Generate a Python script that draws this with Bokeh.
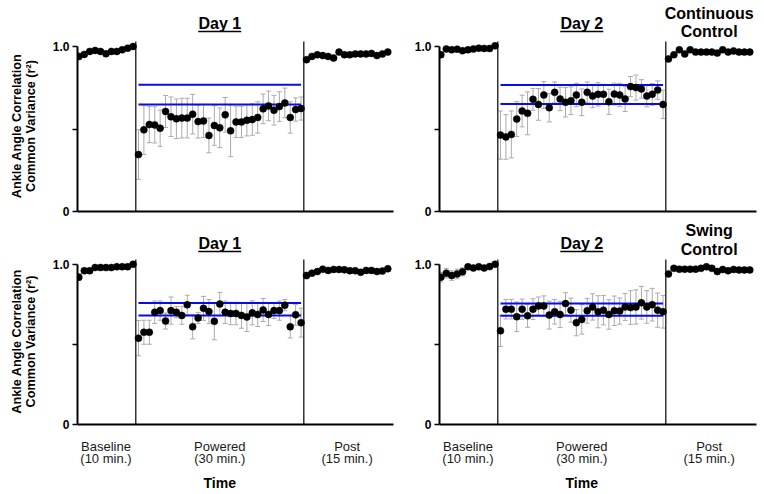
from bokeh.plotting import figure
from bokeh.layouts import row, column
from bokeh.models import ColumnDataSource, FixedTicker, LinearAxis, Whisker, TeeHead, Range1d
from bokeh.core.properties import value
from bokeh.embed import file_html
from bokeh.resources import INLINE

# ---------------- data ----------------
section_labels = ["Baseline\n(10 min.)", "Powered\n(30 min.)", "Post\n(15 min.)"]
x_title = "Time"
y_title = "Ankle Angle Correlation\nCommon Variance (r\u00b2)"
day_titles = ["Day 1", "Day 2"]
group_titles = [["Continuous", "Control"], ["Swing", "Control"]]

# Continuous control, day 1
cc1_base = [0.94, 0.952, 0.97, 0.976, 0.97, 0.956, 0.97, 0.97, 0.98, 0.99, 1.0]
cc1_base_err = [0.02, 0.01, 0.01, 0.01, 0.01, 0.01, 0.01, 0.01, 0.01, 0.01, 0.01]
cc1_pow = [0.345, 0.495, 0.527, 0.525, 0.505, 0.606, 0.574, 0.562, 0.566, 0.566, 0.590,
           0.545, 0.549, 0.461, 0.521, 0.507, 0.586, 0.489, 0.543, 0.543, 0.553, 0.557,
           0.570, 0.622, 0.640, 0.614, 0.636, 0.658, 0.570, 0.618, 0.624]
cc1_pow_err = [0.15, 0.15, 0.11, 0.11, 0.11, 0.097, 0.12, 0.12, 0.12, 0.12, 0.12,
               0.10, 0.10, 0.105, 0.12, 0.12, 0.105, 0.157, 0.095, 0.095, 0.095, 0.095,
               0.095, 0.09, 0.09, 0.09, 0.09, 0.09, 0.095, 0.07, 0.07]
cc1_post = [0.92, 0.94, 0.95, 0.945, 0.94, 0.93, 0.966, 0.95, 0.95, 0.955, 0.955, 0.955,
            0.958, 0.945, 0.955, 0.966]
cc1_post_err = [0.015, 0.01, 0.01, 0.01, 0.01, 0.01, 0.01, 0.01, 0.01, 0.01, 0.01, 0.01,
                0.01, 0.01, 0.01, 0.01]
cc1_band = [0.768, 0.648]

# Continuous control, day 2
cc2_base = [0.95, 0.985, 0.98, 0.984, 0.975, 0.98, 0.985, 0.99, 0.988, 0.988, 1.004]
cc2_base_err = [0.015, 0.01, 0.01, 0.01, 0.01, 0.01, 0.01, 0.01, 0.01, 0.01, 0.01]
cc2_pow = [0.463, 0.452, 0.467, 0.56, 0.609, 0.595, 0.68, 0.649, 0.706, 0.629, 0.722,
           0.682, 0.662, 0.671, 0.706, 0.662, 0.722, 0.70, 0.71, 0.71, 0.665, 0.712,
           0.706, 0.682, 0.757, 0.751, 0.743, 0.70, 0.71, 0.736, 0.649]
cc2_pow_err = [0.146, 0.135, 0.142, 0.106, 0.096, 0.13, 0.066, 0.096, 0.081, 0.086, 0.063,
               0.071, 0.089, 0.084, 0.071, 0.081, 0.063, 0.071, 0.071, 0.061, 0.076, 0.066,
               0.071, 0.076, 0.061, 0.076, 0.056, 0.066, 0.066, 0.056, 0.086]
cc2_post = [0.925, 0.95, 0.98, 0.955, 0.98, 0.966, 0.966, 0.966, 0.966, 0.96, 0.98, 0.966,
            0.973, 0.966, 0.966, 0.966]
cc2_post_err = [0.015, 0.01, 0.01, 0.01, 0.01, 0.01, 0.01, 0.01, 0.01, 0.01, 0.01, 0.01,
                0.01, 0.01, 0.01, 0.01]
cc2_band = [0.767, 0.651]

# Swing control, day 1
sc1_base = [0.92, 0.96, 0.96, 0.98, 0.98, 0.98, 0.98, 0.985, 0.985, 0.985, 1.0]
sc1_base_err = [0.02, 0.01, 0.01, 0.01, 0.01, 0.01, 0.01, 0.01, 0.01, 0.01, 0.01]
sc1_pow = [0.539, 0.576, 0.576, 0.701, 0.711, 0.646, 0.711, 0.701, 0.681, 0.747, 0.610,
           0.665, 0.725, 0.705, 0.644, 0.752, 0.701, 0.693, 0.693, 0.681, 0.671, 0.697,
           0.687, 0.715, 0.687, 0.711, 0.711, 0.745, 0.610, 0.685, 0.636]
sc1_pow_err = [0.11, 0.075, 0.075, 0.07, 0.06, 0.05, 0.085, 0.035, 0.055, 0.06, 0.075,
               0.035, 0.075, 0.075, 0.115, 0.073, 0.07, 0.07, 0.07, 0.08, 0.09, 0.075,
               0.075, 0.072, 0.07, 0.05, 0.06, 0.035, 0.07, 0.065, 0.09]
sc1_post = [0.93, 0.945, 0.955, 0.97, 0.962, 0.968, 0.968, 0.966, 0.96, 0.96, 0.95, 0.962,
            0.962, 0.955, 0.958, 0.972]
sc1_post_err = [0.02, 0.01, 0.01, 0.01, 0.01, 0.01, 0.01, 0.01, 0.01, 0.01, 0.01, 0.01,
                0.01, 0.01, 0.01, 0.01]
sc1_band = [0.758, 0.681]

# Swing control, day 2
sc2_base = [0.92, 0.945, 0.93, 0.94, 0.953, 0.985, 0.977, 0.985, 0.977, 0.986, 1.0]
sc2_base_err = [0.03, 0.03, 0.03, 0.03, 0.025, 0.01, 0.01, 0.01, 0.01, 0.01, 0.01]
sc2_pow = [0.585, 0.72, 0.72, 0.673, 0.72, 0.679, 0.72, 0.74, 0.74, 0.683, 0.704,
           0.687, 0.755, 0.714, 0.636, 0.656, 0.71, 0.734, 0.704, 0.714, 0.687, 0.71,
           0.708, 0.734, 0.73, 0.734, 0.76, 0.734, 0.748, 0.714, 0.704]
sc2_pow_err = [0.098, 0.061, 0.061, 0.092, 0.063, 0.072, 0.065, 0.056, 0.063, 0.087, 0.077,
               0.082, 0.068, 0.075, 0.082, 0.092, 0.077, 0.082, 0.1, 0.092, 0.092, 0.092,
               0.082, 0.084, 0.105, 0.107, 0.102, 0.102, 0.102, 0.107, 0.102]
sc2_post = [0.94, 0.975, 0.97, 0.97, 0.97, 0.97, 0.975, 0.985, 0.975, 0.955, 0.968, 0.96,
            0.968, 0.965, 0.965, 0.965]
sc2_post_err = [0.01, 0.01, 0.01, 0.01, 0.01, 0.01, 0.01, 0.01, 0.01, 0.01, 0.01, 0.01,
                0.01, 0.01, 0.01, 0.01]
sc2_band = [0.755, 0.679]

y_ticks = [0, 0.5, 1.0]
y_tick_labels = ["0", "", "1.0"]

# ---------------- styling / layout constants ----------------
FONT = "Liberation Sans"
PX_X = 5.42      # pixels per sample
PX_Y = 165.0     # pixels per unit r^2
ERR_COLOR = "#ababab"
BAND_COLOR = "#0a0aee"
DIV_COLOR = "#333333"

COLS = {True: dict(w=400, mbl=77, mbr=7), False: dict(w=362, mbl=39, mbr=6)}
# page rows: header (top, bottom), main (frame bottom, canvas bottom)
ROWS = {True: dict(h0=0, h1=40, m1=211, m2=219),
        False: dict(h0=219, h1=258, m1=429, m2=493)}


def sections(base, pw, post):
    nb, npw, npo = len(base), len(pw), len(post)
    bx = list(range(nb))
    pwx = list(range(nb, nb + npw))
    pox = list(range(nb + npw, nb + npw + npo))
    return bx, pwx, pox


def make_panel(base, base_err, pw, pw_err, post, post_err, band, day_title, group_title,
               left, top):
    c = COLS[left]
    r = ROWS[top]
    w, mbl, mbr = c["w"], c["mbl"], c["mbr"]
    frame_w = w - mbl - mbr
    x0 = -0.25
    x1 = x0 + frame_w / PX_X
    xr = Range1d(x0, x1)

    bx, pwx, pox = sections(base, pw, post)
    div1 = (bx[-1] + pwx[0]) / 2
    div2 = (pwx[-1] + pox[0]) / 2
    centers = [(bx[0] + bx[-1]) / 2, (pwx[0] + pwx[-1]) / 2, (pox[0] + pox[-1]) / 2]

    # ---------- header (titles) ; y in page pixels ----------
    hh = r["h1"] - r["h0"]
    hdr = figure(width=w, height=hh, x_range=xr, y_range=Range1d(r["h1"], r["h0"]),
                 x_axis_type=None, y_axis_type=None, output_backend="svg",
                 toolbar_location=None, min_border_left=mbl, min_border_right=mbr,
                 min_border_top=0, min_border_bottom=0)
    hdr.outline_line_color = None
    hdr.background_fill_color = "white"
    hdr.border_fill_color = "white"
    base_line = r["h0"] + (28 if top else 29)
    hdr.text(x=[centers[1]], y=[base_line - 5], text=[day_title], text_font=value(FONT),
             text_font_size="16px", text_font_style="bold", text_align="center",
             text_baseline="middle", text_color="black")
    half = 21.5 / PX_X
    hdr.segment(x0=[centers[1] - half], y0=[base_line + 3], x1=[centers[1] + half],
                y1=[base_line + 3], line_color="black", line_width=1.5)
    if group_title is not None:
        g0 = r["h0"] + (17.5 if top else 16)
        hdr.text(x=[centers[2], centers[2]], y=[g0 - 5, g0 + 13.5], text=group_title,
                 text_font=value(FONT), text_font_size="16px", text_font_style="bold",
                 text_align="center", text_baseline="middle", text_color="black")

    # ---------- main plot ----------
    h = r["m2"] - r["h1"]
    mbb = r["m2"] - r["m1"]
    frame_h = r["m1"] - r["h1"]
    y1 = frame_h / PX_Y
    p = figure(width=w, height=h, x_range=xr, y_range=Range1d(0, y1),
               output_backend="svg", toolbar_location=None,
               min_border_left=mbl, min_border_right=mbr,
               min_border_top=0, min_border_bottom=mbb)
    p.outline_line_color = None
    p.xgrid.visible = False
    p.ygrid.visible = False
    p.background_fill_color = "white"
    p.border_fill_color = "white"

    xs = bx + pwx + pox
    ys = base + pw + post
    es = base_err + pw_err + post_err
    src = ColumnDataSource(dict(x=xs, y=ys,
                                upper=[a + b for a, b in zip(ys, es)],
                                lower=[a - b for a, b in zip(ys, es)]))

    p.segment(x0=[div1, div2], y0=[0, 0], x1=[div1, div2], y1=[1.03, 1.03],
              line_color=DIV_COLOR, line_width=1.5)

    wh = Whisker(source=src, base="x", upper="upper", lower="lower",
                 line_color=ERR_COLOR, line_width=1,
                 upper_head=TeeHead(size=5, line_color=ERR_COLOR, line_width=1),
                 lower_head=TeeHead(size=5, line_color=ERR_COLOR, line_width=1))
    p.add_layout(wh)

    p.segment(x0=[pwx[0], pwx[0]], y0=band, x1=[pwx[-1], pwx[-1]], y1=band,
              line_color=BAND_COLOR, line_width=2)

    p.scatter("x", "y", source=src, size=7, fill_color="black", line_color="black",
              line_width=0.5)

    ya = p.yaxis[0]
    ya.ticker = FixedTicker(ticks=y_ticks)
    ya.major_label_overrides = {t: s for t, s in zip(y_ticks, y_tick_labels)}
    ya.bounds = (0, 1.0)
    ya.axis_line_width = 2
    ya.axis_line_color = "black"
    ya.major_tick_line_color = "black"
    ya.major_tick_line_width = 1.5
    ya.major_tick_out = 5
    ya.major_tick_in = 0
    ya.minor_tick_line_color = None
    ya.major_label_standoff = 3
    ya.major_label_text_font = FONT
    ya.major_label_text_font_size = "12px"
    ya.major_label_text_font_style = "bold"
    ya.major_label_text_color = "black"
    if left:
        ya.axis_label = y_title
        ya.axis_label_text_font = FONT
        ya.axis_label_text_font_size = "12.7px"
        ya.axis_label_text_font_style = "bold"
        ya.axis_label_text_color = "black"
        ya.axis_label_text_line_height = 1.0
        ya.axis_label_standoff = 12

    xa = p.xaxis[0]
    xa.axis_line_width = 2
    xa.axis_line_color = "black"
    xa.major_tick_line_color = None
    xa.minor_tick_line_color = None
    xa.major_tick_out = 0
    xa.major_tick_in = 0
    if top:
        xa.ticker = FixedTicker(ticks=[])
        xa.major_label_standoff = 0
    else:
        xa.ticker = FixedTicker(ticks=centers)
        xa.major_label_overrides = {cc: s for cc, s in zip(centers, section_labels)}
        xa.major_label_standoff = 14
        xa.major_label_text_font = FONT
        xa.major_label_text_font_size = "13px"
        xa.major_label_text_line_height = 0.8
        xa.major_label_text_color = "#1a1a1a"
        xa2 = LinearAxis(ticker=FixedTicker(ticks=[centers[1]]),
                         major_label_overrides={centers[1]: x_title},
                         axis_line_color=None, major_tick_line_color=None,
                         minor_tick_line_color=None, major_tick_out=0, major_tick_in=0,
                         major_label_standoff=6, major_label_text_font=FONT,
                         major_label_text_font_size="14px",
                         major_label_text_font_style="bold",
                         major_label_text_color="black")
        p.add_layout(xa2, "below")
    return hdr, p


h_tl, p_tl = make_panel(cc1_base, cc1_base_err, cc1_pow, cc1_pow_err, cc1_post, cc1_post_err,
                        cc1_band, day_titles[0], None, True, True)
h_tr, p_tr = make_panel(cc2_base, cc2_base_err, cc2_pow, cc2_pow_err, cc2_post, cc2_post_err,
                        cc2_band, day_titles[1], group_titles[0], False, True)
h_bl, p_bl = make_panel(sc1_base, sc1_base_err, sc1_pow, sc1_pow_err, sc1_post, sc1_post_err,
                        sc1_band, day_titles[0], None, True, False)
h_br, p_br = make_panel(sc2_base, sc2_base_err, sc2_pow, sc2_pow_err, sc2_post, sc2_post_err,
                        sc2_band, day_titles[1], group_titles[1], False, False)

layout = column(row(h_tl, h_tr), row(p_tl, p_tr), row(h_bl, h_br), row(p_bl, p_br))

open("out.html", "w").write(file_html(layout, INLINE))
